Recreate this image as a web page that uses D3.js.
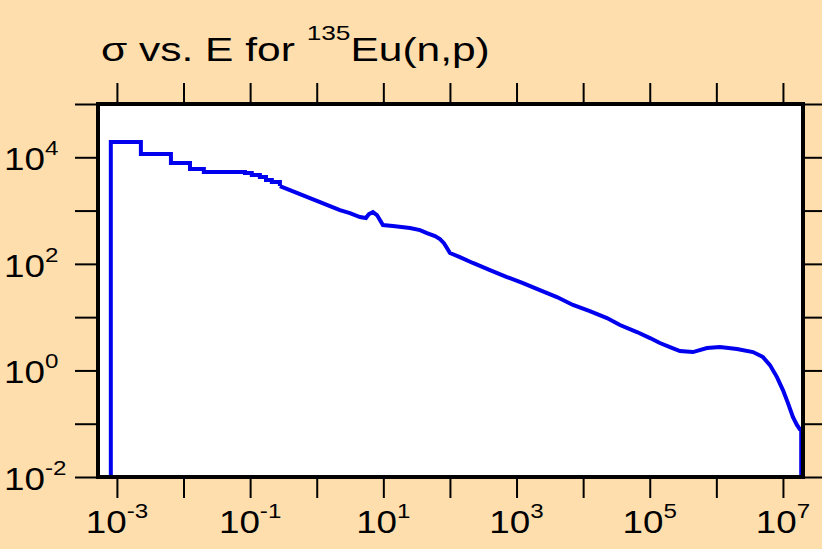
<!DOCTYPE html>
<html>
<head>
<meta charset="utf-8">
<script src="https://cdn.jsdelivr.net/npm/d3@7"></script>
<style>
html,body{margin:0;padding:0;background:#ffdead;}
svg{display:block;}
text{font-family:"Liberation Sans",Arial,sans-serif;fill:#000;}
</style>
</head>
<body>
<svg id="chart" width="822" height="549"></svg>
<script>
// ---- data ----
const titleMain = "σ vs. E for ";
const titleSup = "135";
const titleTail = "Eu(n,p)";

// low-energy histogram region (step levels)
const stepEnergy = [8.1e-4, 2.29e-3, 6.47e-3, 1.25e-2, 2.02e-2, 8.36e-2, 0.106, 0.140, 0.173, 0.212, 0.280];
const stepSigma  = [1.93e4, 1.15e4, 7.78e3, 6.01e3, 5.27e3, 5.06e3, 4.63e3, 4.25e3, 3.73e3, 3.43e3, 2.88e3];

// continuous region
const curveEnergy = [0.280, 0.396, 0.560, 0.791, 1.12, 1.58, 2.23, 3.15, 4.45, 5.48, 6.08, 6.98, 8.02, 8.89, 9.86,
  13.9, 25.1, 35.5, 45.2, 59.6, 70.8, 81.3, 90.2, 100, 141, 221, 399, 718, 1.25e3, 2.24e3, 4.04e3, 7.03e3,
  1.26e4, 2.28e4, 3.57e4, 6.43e4, 1.01e5, 1.42e5, 2.01e5, 2.84e5, 4.45e5, 7.23e5, 1.13e6, 2.04e6, 3.55e6,
  5.01e6, 6.38e6, 8.13e6, 1.0e7, 1.19e7, 1.41e7, 1.62e7, 1.78e7, 1.88e7];
const curveSigma = [2.88e3, 2.43e3, 2.04e3, 1.72e3, 1.44e3, 1.21e3, 1.02e3, 898, 755, 723, 859, 937, 824, 664, 535,
  512, 470, 431, 378, 332, 292, 245, 198, 160, 134, 104, 76.5, 56.5, 43.6, 32.2, 23.8, 16.9,
  13.0, 9.62, 7.11, 5.25, 4.05, 3.27, 2.75, 2.31, 2.21, 2.63, 2.75, 2.52, 2.21,
  1.78, 1.26, 0.751, 0.428, 0.244, 0.134, 0.0946, 0.0796, 0.0796];

const xDomain = [5.2e-4, 2.0e7];
const yDomain = [1e-2, 1e5];
const xTickExps = [-3, -2, -1, 0, 1, 2, 3, 4, 5, 6, 7];
const xLabelExps = [-3, -1, 1, 3, 5, 7];
const yTickExps = [-2, -1, 0, 1, 2, 3, 4, 5];
const yLabelExps = [-2, 0, 2, 4];

// ---- layout ----
const L = 98, R = 803, T = 104, B = 477;
const svg = d3.select("#chart");
const x = d3.scaleLog().domain(xDomain).range([L, R]);
const y = d3.scaleLog().domain(yDomain).range([B, T]);

svg.append("rect").attr("width", 822).attr("height", 549).attr("fill", "#ffdead");
svg.append("rect").attr("x", L).attr("y", T).attr("width", R - L).attr("height", B - T).attr("fill", "#fff");

svg.append("defs").append("clipPath").attr("id", "clip")
  .append("rect").attr("x", L).attr("y", T).attr("width", R - L + 1).attr("height", B - T);

const tickLen = 21;
const xTicks = xTickExps.map(e => Math.pow(10, e));
const yTicks = yTickExps.map(e => Math.pow(10, e));

function styleAxis(g) {
  g.select(".domain").remove();
  g.selectAll(".tick line").attr("stroke", "#000").attr("stroke-width", 2);
  g.selectAll(".tick text").remove();
}

const gB = svg.append("g").attr("transform", `translate(0,${B + 2})`)
  .call(d3.axisBottom(x).tickValues(xTicks).tickSize(tickLen - 2).tickFormat(""));
styleAxis(gB);
const gT = svg.append("g").attr("transform", `translate(0,${T - 2})`)
  .call(d3.axisTop(x).tickValues(xTicks).tickSize(tickLen - 2).tickFormat(""));
styleAxis(gT);
const gL = svg.append("g").attr("transform", `translate(${L - 2},0)`)
  .call(d3.axisLeft(y).tickValues(yTicks).tickSize(tickLen).tickFormat(""));
styleAxis(gL);
const gR = svg.append("g").attr("transform", `translate(${R + 2},0)`)
  .call(d3.axisRight(y).tickValues(yTicks).tickSize(tickLen).tickFormat(""));
styleAxis(gR);

// labels (font drawn slightly wide, as in the reference)
const fs = 32, sfs = 21, sx = 1.15;
const expText = e => (e < 0 ? "-" + (-e) : String(e));
xLabelExps.forEach(e => {
  const t = svg.append("text")
    .attr("transform", `translate(${x(Math.pow(10, e))},533) scale(${sx},1)`)
    .attr("text-anchor", "middle")
    .style("font-size", fs + "px");
  t.append("tspan").text("10");
  t.append("tspan").attr("dy", -15).style("font-size", sfs + "px").text(expText(e));
});
yLabelExps.forEach(e => {
  const g = svg.append("g")
    .attr("transform", `translate(45,${y(Math.pow(10, e)) + 13}) scale(${sx},1)`);
  g.append("text").attr("text-anchor", "end").style("font-size", fs + "px").text("10");
  g.append("text").attr("text-anchor", "start").attr("y", -15).style("font-size", sfs + "px").text(expText(e));
});

// title
const title = svg.append("text")
  .attr("transform", "translate(101,61) scale(1.25,1)")
  .style("font-size", "34px");
title.append("tspan").text(titleMain);
title.append("tspan").attr("dy", -21).style("font-size", "21px").text(titleSup);
title.append("tspan").attr("dy", 21).text(titleTail);

// data line
const plot = svg.append("g").attr("clip-path", "url(#clip)");
const stepData = [{e: stepEnergy[0], s: yDomain[0]}].concat(stepEnergy.map((e, i) => ({e, s: stepSigma[i]})));
const curveData = curveEnergy.map((e, i) => ({e, s: curveSigma[i]}));
curveData.push({e: curveEnergy[curveEnergy.length - 1], s: yDomain[0]});

plot.append("path").datum(stepData)
  .attr("fill", "none").attr("stroke", "#0000ee").attr("stroke-width", 4)
  .attr("stroke-linejoin", "miter")
  .attr("d", d3.line().x(d => x(d.e)).y(d => y(d.s)).curve(d3.curveStepAfter));
plot.append("path").datum(curveData)
  .attr("fill", "none").attr("stroke", "#0000ee").attr("stroke-width", 4)
  .attr("stroke-linejoin", "miter")
  .attr("d", d3.line().x(d => x(d.e)).y(d => y(d.s)).curve(d3.curveLinear));

// frame
svg.append("rect").attr("x", L).attr("y", T).attr("width", R - L).attr("height", B - T)
  .attr("fill", "none").attr("stroke", "#000").attr("stroke-width", 4);
</script>
</body>
</html>
